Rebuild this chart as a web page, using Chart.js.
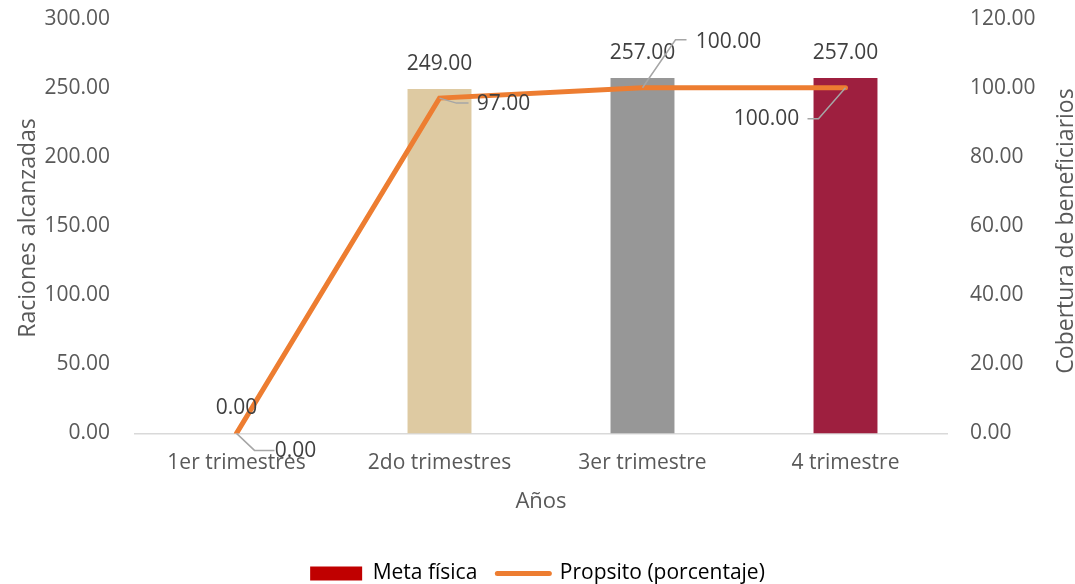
<!DOCTYPE html>
<html>
<head>
<meta charset="utf-8">
<script src="https://cdn.jsdelivr.net/npm/chart.js@4"></script>
<style>
  html, body { margin: 0; padding: 0; background: #fff; }
  #frame { width: 1075px; height: 584px; overflow: hidden; }
  /* chart.js keeps half a tick label of room above the plot; pull it up instead */
  #wrap { width: 1075px; height: 595px; margin-top: -11px; }
</style>
</head>
<body>
<div id="frame"><div id="wrap"><canvas id="chart"></canvas></div></div>
<script>
const categories = ['1er trimestres', '2do trimestres', '3er trimestre', '4 trimestre'];
const metaFisica = [0, 249, 257, 257];
const proposito = [0, 97, 100, 100];
const barColors = ['#C00000', '#DECAA2', '#979797', '#9E1F3F'];

const FONT = '"Open Sans", sans-serif';
const TEXT = '#595959';
const SHIFT = 11;

// where each line label sits relative to its point: leader elbow, leader end, text centre
const callouts = [
  { elbow: [18, 17], end: [38, 17], text: [59, 18] },
  { elbow: [17, 5], end: [29, 5], text: [64, 6] },
  { elbow: [33, -48], end: [44, -48], text: [86, -46] },
  { elbow: [-27, 31], end: [-38, 31], text: [-79, 31] },
];

const labelsPlugin = {
  id: 'valueLabels',
  afterDatasetsDraw(chart) {
    const ctx = chart.ctx;
    ctx.save();
    ctx.font = '21px ' + FONT;
    ctx.textAlign = 'center';
    ctx.textBaseline = 'middle';

    // bar values
    ctx.fillStyle = '#404040';
    chart.getDatasetMeta(1).data.forEach((bar, i) => {
      ctx.fillText(metaFisica[i].toFixed(2), bar.x, bar.y - 25);
    });

    // line values with leader lines
    chart.getDatasetMeta(0).data.forEach((pt, i) => {
      const c = callouts[i];
      ctx.strokeStyle = '#A6A6A6';
      ctx.lineWidth = 1.5;
      ctx.beginPath();
      ctx.moveTo(pt.x, pt.y);
      ctx.lineTo(pt.x + c.elbow[0], pt.y + c.elbow[1]);
      ctx.lineTo(pt.x + c.end[0], pt.y + c.end[1]);
      ctx.stroke();
      ctx.fillStyle = '#404040';
      ctx.fillText(proposito[i].toFixed(2), pt.x + c.text[0], pt.y + c.text[1]);
    });

    // axis titles, both reading bottom to top
    ctx.fillStyle = TEXT;
    ctx.font = '23px ' + FONT;
    ctx.textBaseline = 'alphabetic';
    ctx.save();
    ctx.translate(35, 228 + SHIFT);
    ctx.rotate(-Math.PI / 2);
    ctx.fillText('Raciones alcanzadas', 0, 0);
    ctx.restore();
    ctx.save();
    ctx.translate(1073, 231 + SHIFT);
    ctx.rotate(-Math.PI / 2);
    ctx.fillText('Cobertura de beneficiarios', 0, 0);
    ctx.restore();
    ctx.restore();
  }
};

new Chart(document.getElementById('chart'), {
  data: {
    labels: categories,
    datasets: [
      {
        type: 'line',
        label: 'Propsito (porcentaje)',
        data: proposito,
        yAxisID: 'y1',
        borderColor: '#ED7D31',
        backgroundColor: '#ED7D31',
        borderWidth: 5,
        borderCapStyle: 'round',
        pointRadius: 0,
        tension: 0,
        order: 0,
      },
      {
        type: 'bar',
        label: 'Meta física',
        data: metaFisica,
        yAxisID: 'y',
        backgroundColor: barColors,
        barPercentage: 0.315,
        categoryPercentage: 1,
        order: 1,
      },
    ],
  },
  options: {
    responsive: true,
    maintainAspectRatio: false,
    animation: false,
    layout: { padding: { top: 0, left: 0, right: 0, bottom: -10 } },
    scales: {
      x: {
        grid: { display: false },
        border: { display: true, color: '#D9D9D9', width: 1.5 },
        ticks: { color: TEXT, font: { family: FONT, size: 21 }, padding: 9, maxRotation: 0 },
        title: { display: true, text: 'Años', color: TEXT, font: { family: FONT, size: 22 }, padding: { top: 4, bottom: 28 } },
      },
      y: {
        position: 'left',
        min: 0, max: 300,
        grid: { display: false },
        border: { display: false },
        ticks: { stepSize: 50, color: TEXT, font: { family: FONT, size: 21 }, padding: 17,
                 callback: v => v.toFixed(2) },
        afterFit(scale) { scale.width = 135; },
      },
      y1: {
        position: 'right',
        min: 0, max: 120,
        grid: { display: false },
        border: { display: false },
        ticks: { stepSize: 20, color: TEXT, font: { family: FONT, size: 21 }, padding: 15,
                 callback: v => v.toFixed(2) },
        afterFit(scale) { scale.width = 128; },
      },
    },
    plugins: {
      tooltip: { enabled: false },
      legend: {
        position: 'bottom',
        labels: {
          color: TEXT,
          font: { family: FONT, size: 21 },
          usePointStyle: true,
          pointStyleWidth: 52,
          boxHeight: 14,
          padding: 20,
          generateLabels(chart) {
            return [
              { text: 'Meta física', fillStyle: '#C00000', strokeStyle: '#C00000', lineWidth: 0,
                pointStyle: 'rect', datasetIndex: 1 },
              { text: 'Propsito (porcentaje)', fillStyle: '#ED7D31', strokeStyle: '#ED7D31', lineWidth: 5,
                lineCap: 'round', pointStyle: 'line', datasetIndex: 0 },
            ];
          },
        },
      },
    },
  },
  plugins: [labelsPlugin],
});
</script>
</body>
</html>
